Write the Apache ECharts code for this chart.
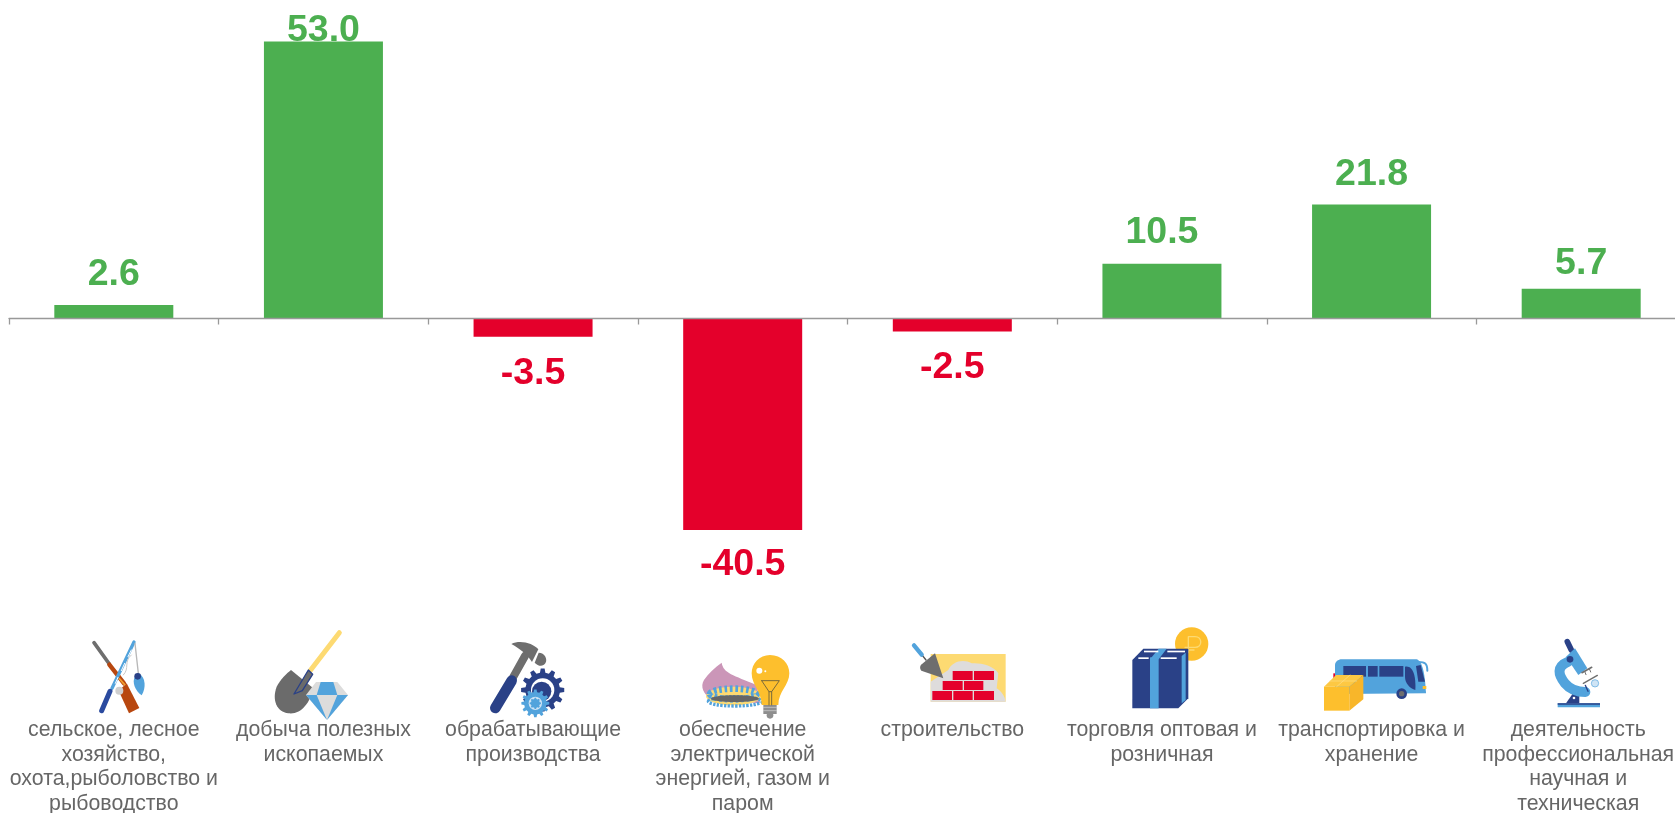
<!DOCTYPE html>
<html>
<head>
<meta charset="utf-8">
<title>chart</title>
<script src="https://cdn.jsdelivr.net/npm/echarts@6/dist/echarts.min.js"></script>
<style>
  html, body { margin: 0; padding: 0; background: #fff; }
  #chart { width: 1675px; height: 813px; }
</style>
</head>
<body>
<div id="chart"></div>
<script>
const categories = [
  'сельское, лесное\nхозяйство,\nохота,рыболовство и\nрыбоводство',
  'добыча полезных\nископаемых',
  'обрабатывающие\nпроизводства',
  'обеспечение\nэлектрической\nэнергией, газом и\nпаром',
  'строительство',
  'торговля оптовая и\nрозничная',
  'транспортировка и\nхранение',
  'деятельность\nпрофессиональная\nнаучная и\nтехническая'
]
const values = [2.6, 53.0, -3.5, -40.5, -2.5, 10.5, 21.8, 5.7]

// расстояние от столбца до подписи, в оригинале оно у каждого своё
const labelGaps = [11, -8, 18, 16, 17, 12, 11, 6]

const GREEN = '#4caf50'
const RED = '#e4002b'
const NAVY = '#2a4187'
const BLUE = '#52a3dc'
const GRAY = '#6e6e6e'
const AMBER = '#fdbf2d'
const SAND = '#fdda72'
const FONT = '"Liberation Sans", Arial, sans-serif'

// маленькие помощники для иконок
function path (d, fill, stroke, lineWidth) {
  return {
    type: 'path',
    shape: { pathData: d },
    style: { fill: fill || 'none', stroke: stroke || 'none', lineWidth: lineWidth || 0, lineCap: 'round', lineJoin: 'round' }
  }
}
function line (x1, y1, x2, y2, color, width) {
  return path('M' + x1 + ',' + y1 + 'L' + x2 + ',' + y2, null, color, width)
}
function circle (cx, cy, r, fill) {
  return { type: 'circle', shape: { cx: cx, cy: cy, r: r }, style: { fill: fill } }
}
function box (x1, y1, x2, y2, fill) {
  return { type: 'rect', shape: { x: x1, y: y1, width: x2 - x1, height: y2 - y1 }, style: { fill: fill } }
}
function gear (cx, cy, r, teeth, fill) {
  let d = ''
  const step = Math.PI * 2 / teeth
  for (let i = 0; i < teeth; i++) {
    const a = i * step
    const pts = [[a - step * 0.3, r * 0.8], [a - step * 0.17, r], [a + step * 0.17, r], [a + step * 0.3, r * 0.8]]
    pts.forEach((p, j) => {
      d += ((i === 0 && j === 0) ? 'M' : 'L') + (cx + Math.cos(p[0]) * p[1]).toFixed(1) + ',' + (cy + Math.sin(p[0]) * p[1]).toFixed(1)
    })
  }
  return path(d + 'Z', fill)
}
function icon (x, y, children) {
  return { type: 'group', x: x, y: y, scaleX: 1 / 3, scaleY: 1 / 3, silent: true, children: children }
}

const iconFishing = icon(60, 620, [
  line(102, 68, 148, 132, GRAY, 11),
  line(148, 134, 192, 190, '#b8470f', 13),
  path('M176,212 L200,190 L238,264 L207,280 Z', '#b8470f'),
  line(178, 176, 194, 194, '#f0a030', 5),
  line(222, 66, 156, 205, BLUE, 10),
  line(214, 90, 204, 110, '#fff', 3),
  line(194, 130, 184, 152, '#fff', 3),
  line(174, 172, 166, 190, '#fff', 3),
  line(150, 214, 125, 272, '#2a4a9f', 15),
  path('M214,105 C190,125 210,145 190,165', null, '#c8c8c8', 3),
  circle(178, 212, 12, '#cfcfcf'),
  line(225, 70, 235, 160, '#b8b8b8', 4),
  path('M236,160 C258,172 258,205 245,226 C225,212 215,185 225,170 Z', BLUE),
  circle(233, 169, 10, NAVY)
])

const iconShovel = icon(60, 620, [
  line(752, 150, 838, 38, SAND, 15),
  path('M693,150 L760,205 C750,250 722,285 685,280 C650,275 635,240 650,200 C660,180 680,160 693,150 Z', '#6b6b6b'),
  path('M702,222 L745,150 L758,163 L727,212 Z', '#6b6b6b', NAVY, 4),
  path('M768,186 L832,186 L864,225 L738,225 Z', '#dcdcdc'),
  path('M738,225 L864,225 L801,300 Z', '#dcdcdc'),
  path('M782,186 L820,186 L832,225 L770,225 Z', BLUE),
  path('M738,225 L770,225 L801,300 Z', BLUE),
  path('M832,225 L864,225 L801,300 Z', BLUE)
])

const iconHammer = icon(470, 620, [
  line(165, 108, 122, 185, GRAY, 24),
  line(125, 182, 76, 264, NAVY, 32),
  path('M124,72 C150,58 190,70 205,88 L186,126 C170,102 150,86 124,72 Z', GRAY),
  path('M206,98 C224,98 234,118 226,130 C220,140 205,140 194,128 Z', GRAY),
  gear(218, 210, 65, 12, NAVY),
  circle(218, 210, 35, '#fff'),
  circle(215, 214, 29, NAVY),
  gear(196, 250, 42, 12, BLUE),
  circle(196, 250, 20, '#cfe4f5'),
  gear(196, 250, 17, 8, BLUE)
])

const iconBurner = icon(470, 620, [
  path('M755,128 C760,160 790,165 860,195 L870,250 L725,240 C700,222 690,200 702,180 C715,160 735,142 755,128 Z', '#cb96b8'),
  { type: 'ellipse', shape: { cx: 790, cy: 228, rx: 82, ry: 28 }, style: { fill: SAND } },
  { type: 'ellipse', shape: { cx: 790, cy: 222, rx: 70, ry: 16 }, style: { fill: 'none', stroke: BLUE, lineWidth: 20, lineDash: [8, 8] } },
  { type: 'ellipse', shape: { cx: 795, cy: 244, rx: 80, ry: 14 }, style: { fill: 'none', stroke: BLUE, lineWidth: 10, lineDash: [7, 4] } },
  { type: 'ellipse', shape: { cx: 795, cy: 236, rx: 72, ry: 10 }, style: { fill: '#666' } },
  box(880, 252, 920, 282, '#8e8e8e'),
  line(880, 262, 920, 262, '#d5d5d5', 2),
  line(880, 272, 920, 272, '#d5d5d5', 2),
  circle(900, 286, 10, '#8e8e8e'),
  path('M900,105 C935,105 958,130 958,160 C958,195 925,215 925,255 L875,255 C875,215 845,195 845,160 C845,130 868,105 900,105 Z', AMBER),
  circle(868, 152, 9, '#fff'),
  circle(886, 154, 3, '#fff'),
  path('M875,182 L928,182 L905,215 L905,255 M875,182 L897,215 L897,255 M897,215 L905,215', null, '#7a6a3a', 3)
])

const iconBricks = icon(890, 620, [
  box(122, 102, 347, 245, SAND),
  path('M122,245 L122,185 L175,150 C185,125 220,115 245,130 C270,128 310,135 325,160 L320,205 C335,215 345,230 347,245 Z', '#dedcdc'),
  box(188, 153, 248, 180, RED), box(252, 153, 312, 180, RED),
  box(158, 183, 218, 210, RED), box(222, 183, 280, 210, RED),
  box(127, 213, 186, 240, RED), box(190, 213, 248, 240, RED), box(252, 213, 312, 240, RED),
  line(108, 120, 96, 105, '#555', 4),
  line(72, 76, 95, 104, BLUE, 13),
  path('M135,100 L160,175 L94,152 C88,145 90,136 96,132 Z', GRAY)
])

const iconBox = icon(890, 620, [
  circle(905, 72, 50, AMBER),
  path('M895,98 L895,50 L915,50 C938,50 938,82 915,82 L885,82 M885,90 L912,90', null, SAND, 4),
  path('M727,120 L760,86 L895,86 L895,235 L865,265 L727,265 Z', NAVY),
  box(780, 112, 806, 265, BLUE),
  path('M780,118 L806,118 L830,86 L806,86 Z', BLUE),
  path('M875,108 L887,98 L887,240 L875,250 Z', BLUE),
  box(762, 92, 805, 97, '#fff'), box(832, 92, 885, 97, '#fff'),
  box(745, 112, 776, 117, '#fff'), box(812, 112, 860, 117, '#fff')
])

const iconBus = icon(1310, 620, [
  box(70, 160, 76, 176, RED),
  path('M75,135 C75,125 85,118 95,118 L320,118 C340,125 345,170 348,220 L90,222 L75,200 Z', BLUE),
  box(100, 138, 168, 170, NAVY), box(174, 138, 203, 170, NAVY), box(208, 138, 280, 170, NAVY),
  path('M285,140 C310,135 318,170 316,210 C300,205 285,190 285,170 Z', NAVY),
  path('M318,138 L332,135 L345,185 L325,185 Z', NAVY),
  path('M322,126 C345,125 352,130 352,152', null, BLUE, 6),
  circle(275, 221, 16, NAVY),
  circle(275, 221, 8, GRAY),
  box(338, 198, 349, 207, AMBER),
  path('M42,200 L118,200 L118,272 L42,272 Z', AMBER),
  path('M42,200 L78,165 L160,165 L118,200 Z', '#fdc843'),
  path('M118,200 L160,165 L160,238 L118,272 Z', '#f8b62a'),
  path('M60,183 L140,183 M80,200 L120,165', null, '#ffe08a', 2)
])

const iconMicroscope = icon(1310, 620, [
  box(743, 250, 870, 262, BLUE),
  box(743, 250, 870, 254, NAVY),
  path('M768,250 L790,218 L808,225 L808,250 Z', NAVY),
  circle(792, 234, 4, '#fff'),
  line(772, 65, 784, 90, NAVY, 17),
  path('M795,85 L832,145 L805,165 L768,110 Z', BLUE),
  path('M775,125 C738,140 745,165 765,190 C780,208 800,216 826,216', null, BLUE, 30),
  circle(780, 118, 10, NAVY),
  line(816, 158, 845, 142, GRAY, 5),
  line(824, 154, 828, 164, GRAY, 3),
  line(838, 146, 842, 156, GRAY, 3),
  line(820, 190, 862, 166, GRAY, 4),
  { type: 'circle', shape: { cx: 855, cy: 190, r: 11 }, style: { fill: '#cfe4f5', stroke: BLUE, lineWidth: 2 } },
  line(826, 196, 834, 214, NAVY, 4)
])

const icons = [iconFishing, iconShovel, iconHammer, iconBurner, iconBricks, iconBox, iconBus, iconMicroscope]

const myChart = echarts.init(document.getElementById('chart'))

const option = {
  animation: false,
  tooltip: { show: false },
  textStyle: { fontFamily: FONT },
  // сетка шире окна: ось уходит за правый край, как в оригинале
  grid: { left: 9, top: 5, width: 1677, height: 627, outerBoundsMode: 'none' },
  xAxis: {
    type: 'category',
    z: 5,
    data: categories,
    axisLine: { lineStyle: { color: '#999', width: 1.3 } },
    axisTick: { show: true, length: 6, lineStyle: { color: '#999', width: 1.3 } },
    axisLabel: { show: false }
  },
  yAxis: { show: false, type: 'value', min: -60, max: 60, splitLine: { show: false } },
  series: [{
    type: 'bar',
    barWidth: 119,
    data: values.map((v, i) => ({
      value: v,
      itemStyle: { color: v < 0 ? RED : GREEN },
      label: {
        show: true,
        position: v < 0 ? 'bottom' : 'top',
        distance: labelGaps[i],
        color: v < 0 ? RED : GREEN,
        fontSize: 37.5,
        fontWeight: 'bold',
        formatter: p => p.value.toFixed(1)
      }
    }))
  }, {
    // иконки над подписями, графика в 'graphic' не умеет path
    type: 'custom',
    coordinateSystem: 'none',
    silent: true,
    data: icons.map((_, i) => i),
    renderItem: (params) => icons[params.dataIndex]
  }, {
    // подписи категорий: у оси с таким отступом они пропадают, ставим по её координате
    type: 'custom',
    silent: true,
    clip: false,
    data: categories.map((c, i) => [i, 0]),
    renderItem: (params, api) => ({
      type: 'text',
      // последняя подпись в оригинале прижата к краю
      x: api.coord([params.dataIndex, 0])[0] - (params.dataIndex === 7 ? 3 : 0),
      y: 717.5,
      style: {
        text: categories[params.dataIndex],
        fill: '#666',
        fontFamily: FONT,
        fontSize: 21.3,
        lineHeight: 24.8,
        align: 'center',
        verticalAlign: 'top'
      }
    })
  }]
}

myChart.setOption(option)
</script>
</body>
</html>
